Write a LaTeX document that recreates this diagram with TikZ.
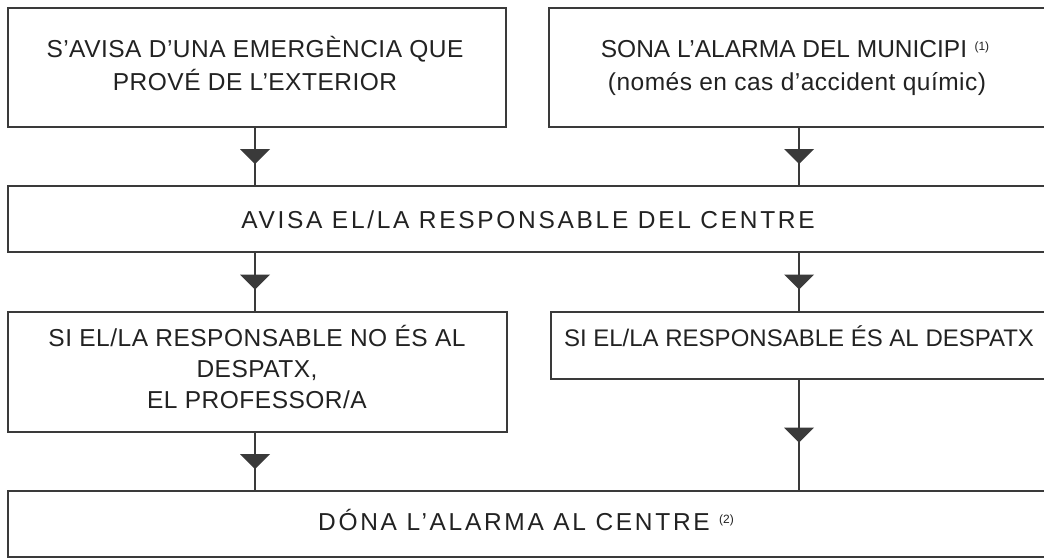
\documentclass[tikz,border=0pt]{standalone}
\usepackage{fontspec}
\setmainfont{Liberation Sans}
\newfontfamily\normfont[LetterSpace=2]{Liberation Sans}
\newfontfamily\plainfont{Liberation Sans}
\newfontfamily\widefont[LetterSpace=11]{Liberation Sans}
\usetikzlibrary{decorations.markings}
\definecolor{ink}{HTML}{222222}
\definecolor{rulecol}{HTML}{3A3A3A}
\tikzset{
  box/.style={draw=rulecol, line width=1.3pt, rectangle, inner sep=0pt},
  txt/.style={text=ink, inner sep=0pt, anchor=base, font=\normfont\fontsize{24.5}{30}\selectfont},
  ptxt/.style={text=ink, inner sep=0pt, anchor=base, font=\plainfont\fontsize{24.5}{30}\selectfont},
  wtxt/.style={text=ink, inner sep=0pt, anchor=base, font=\widefont\fontsize{24.5}{30}\selectfont},
  suptxt/.style={text=ink, inner sep=0pt, anchor=base west, font=\plainfont\fontsize{12}{13}\selectfont},
  flow/.style={draw=rulecol, line width=1.3pt,
    decoration={markings, mark=at position 0.5 with {\fill[rulecol] (7.5pt,0pt) -- (-7.5pt,15pt) -- (-7.5pt,-15pt) -- cycle;}},
    postaction={decorate}},
}
\begin{document}
\begin{tikzpicture}[x=1pt,y=-1pt]
\useasboundingbox (0,0) rectangle (1044,558);
\clip (0,0) rectangle (1044,558);
\fill[white] (0,0) rectangle (1044,558);
% boxes
\node[box, minimum width=498pt, minimum height=119pt] (b1) at (257,67.5) {};
\node[box, minimum width=521pt, minimum height=119pt] (b2) at (809.5,67.5) {};
\node[box, minimum width=1062pt, minimum height=66pt] (b3) at (539,219) {};
\node[box, minimum width=499pt, minimum height=120pt] (b4) at (257.5,372) {};
\node[box, minimum width=519pt, minimum height=67pt] (b5) at (810.5,345.5) {};
\node[box, minimum width=1062pt, minimum height=66pt] (b6) at (539,524) {};
% texts
\node[txt] (t1a) at (255,57) {S’AVISA D’UNA EMERGÈNCIA QUE};
\node[txt] (t1b) at (255,90) {PROVÉ DE L’EXTERIOR};
\node[ptxt] (t2a) at (784,57) {SONA L’ALARMA DEL MUNICIPI};
\node[suptxt] (s1) at (t2a.base east) [xshift=7pt, yshift=7pt] {(1)};
\node[txt] (t2b) at (797,90) {(només en cas d’accident químic)};
\node[wtxt] (t3) at (528,228) {AVISA EL/LA RESPONSABLE DEL CENTRE};
\node[txt] (t4a) at (257,346) {SI EL/LA RESPONSABLE NO ÉS AL};
\node[txt] (t4b) at (257,377) {DESPATX,};
\node[txt] (t4c) at (257,408) {EL PROFESSOR/A};
\node[ptxt, font=\plainfont\fontsize{24}{30}\selectfont] (t5) at (799,346) {SI EL/LA RESPONSABLE ÉS AL DESPATX};
\node[wtxt] (t6) at (514,530) {DÓNA L’ALARMA AL CENTRE};
\node[suptxt] (s2) at (t6.base east) [xshift=9pt, yshift=7pt] {(2)};
% connectors
\coordinate (cl) at (255,0);
\coordinate (cr) at (799,0);
\draw[flow] (b1.south -| cl) -- (b3.north -| cl);
\draw[flow] (b2.south -| cr) -- (b3.north -| cr);
\draw[flow] (b3.south -| cl) -- (b4.north -| cl);
\draw[flow] (b3.south -| cr) -- (b5.north -| cr);
\draw[flow] (b4.south -| cl) -- (b6.north -| cl);
\draw[flow] (b5.south -| cr) -- (b6.north -| cr);
\end{tikzpicture}
\end{document}
